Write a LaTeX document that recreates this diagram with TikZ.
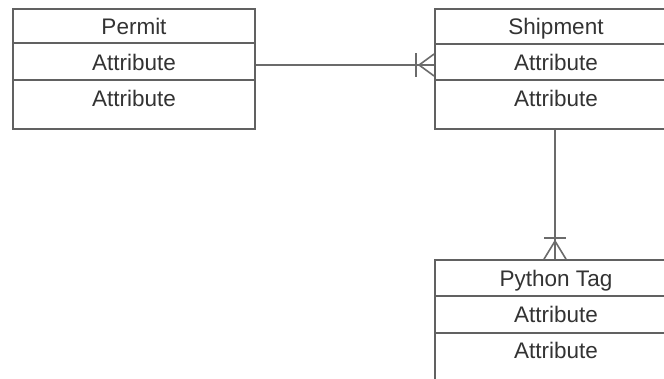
\documentclass[tikz,border=0pt]{standalone}
\usepackage{fontspec}
\setmainfont{Liberation Sans}
\begin{document}
\begin{tikzpicture}[x=1pt,y=-1pt,
  ent/.style={draw=black!62, line width=1.8pt, rectangle, inner sep=0pt, minimum width=242pt},
  sep/.style={draw=black!62, line width=1.8pt},
  lbl/.style={text=black!80, font=\fontsize{22.5}{26}\selectfont, inner sep=0pt, anchor=base},
  conn/.style={draw=black!58, line width=1.6pt}]
\useasboundingbox (0,0) rectangle (664,378);
\fill[white] (0,0) rectangle (664,378);
\clip (0,0) rectangle (664,378);
% Permit
\node[ent, minimum height=120pt] (permit) at (134,69) {};
\draw[sep] (13,43) -- (255,43) (13,80) -- (255,80);
\node[lbl] (p0) at (134,34.5) {Permit};
\node[lbl] (p1) at (134,70.5) {Attribute};
\node[lbl] (p2) at (134,106.5) {Attribute};
% Shipment
\node[ent, minimum height=120pt] (ship) at (556,69) {};
\draw[sep] (435,44) -- (677,44) (435,80) -- (677,80);
\node[lbl] (s0) at (556,34.5) {Shipment};
\node[lbl] (s1) at (556,70.5) {Attribute};
\node[lbl] (s2) at (556,106.5) {Attribute};
% Python Tag
\node[ent, minimum height=120pt] (tag) at (556,320) {};
\draw[sep] (435,296) -- (677,296) (435,333) -- (677,333);
\node[lbl] (t0) at (556,286.5) {Python Tag};
\node[lbl] (t1) at (556,322.5) {Attribute};
\node[lbl] (t2) at (556,358.5) {Attribute};
% Permit - Shipment (one to many)
\coordinate (pa) at (permit.east |- 0,65);
\coordinate (sa) at (ship.west |- 0,65);
\draw[conn] (pa) -- (sa);
\draw[conn] ([xshift=-18pt]sa) ++(0,-12) -- ++(0,24);
\draw[conn] ([xshift=-15pt]sa) -- ([yshift=11pt]sa);
\draw[conn] ([xshift=-15pt]sa) -- ([yshift=-11pt]sa);
% Shipment - Python Tag (one to many)
\coordinate (sb) at (ship.south -| 555,0);
\coordinate (tb) at (tag.north -| 555,0);
\draw[conn] (sb) -- (tb);
\draw[conn] ([yshift=21pt]tb) ++(-11,0) -- ++(22,0);
\draw[conn] ([yshift=18pt]tb) -- ([xshift=-11pt]tb);
\draw[conn] ([yshift=18pt]tb) -- ([xshift=11pt]tb);
\end{tikzpicture}
\end{document}
